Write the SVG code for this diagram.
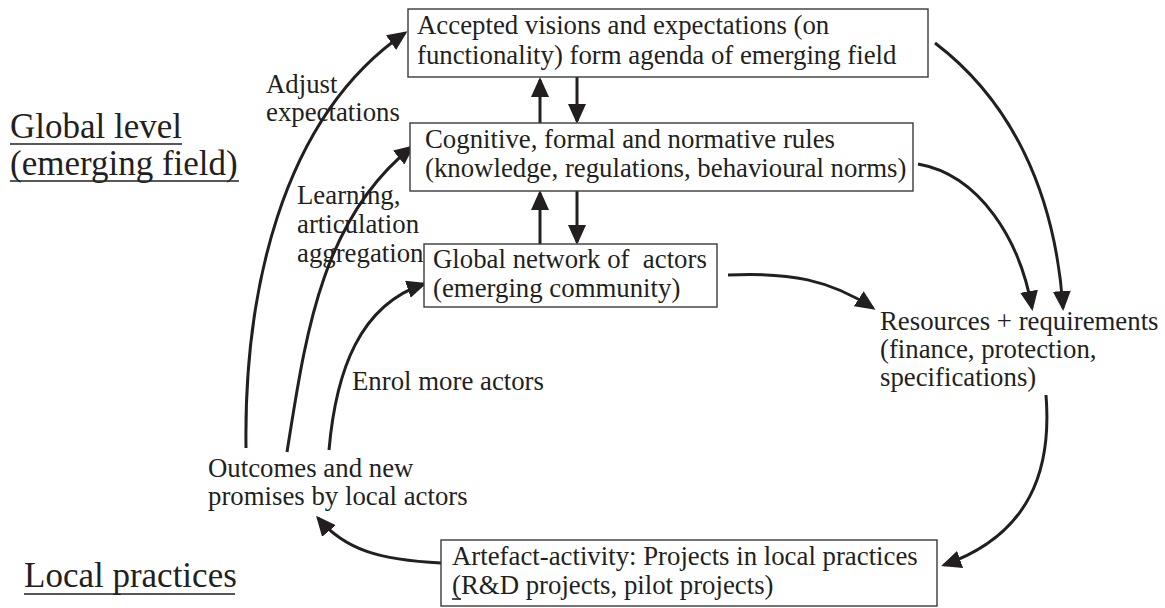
<svg xmlns="http://www.w3.org/2000/svg" width="1165" height="608" viewBox="0 0 1165 608">
<defs>
<style>
text{font-family:"Liberation Serif","Times New Roman",serif;fill:#231f20}
.t{font-size:26.8px}
.big{font-size:35px}
.box{fill:#fff;stroke:#3a3a3a;stroke-width:1.4}
.c{fill:none;stroke:#231f20;stroke-width:3}
.ul{stroke:#231f20;stroke-width:1.6}
</style>
<marker id="ah" viewBox="0 0 20 18" markerUnits="userSpaceOnUse" markerWidth="20" markerHeight="18" refX="17" refY="9" orient="auto">
<path d="M0,0 L20,9 L0,18 z" fill="#231f20"/>
</marker>
</defs>
<rect width="1165" height="608" fill="#fff"/>

<g id="label-global">
<text class="big"><tspan x="10" y="138">Global level</tspan><tspan x="10" y="174.5">(emerging field)</tspan></text>
<line class="ul" x1="10" y1="144" x2="182" y2="144"/>
<line class="ul" x1="10" y1="181" x2="239" y2="181"/>
</g>
<g id="label-local">
<text class="big" x="24" y="587">Local practices</text>
<line class="ul" x1="24" y1="594" x2="235" y2="594"/>
</g>

<g id="connectors">
<path class="c" d="M246,448 C244,300 278,120 405,33" marker-end="url(#ah)"/>
<path class="c" d="M287,452 C305,340 320,220 412,147" marker-end="url(#ah)"/>
<path class="c" d="M329,450 C336,370 360,305 424,284" marker-end="url(#ah)"/>
<path class="c" d="M441,563 C380,560 345,550 318,518" marker-end="url(#ah)"/>
<path class="c" d="M1046,395 C1052,470 1030,535 944,565" marker-end="url(#ah)"/>
<path class="c" d="M728,275 C790,272 830,280 873,308" marker-end="url(#ah)"/>
<path class="c" d="M918,164 C980,175 1020,240 1032,308" marker-end="url(#ah)"/>
<path class="c" d="M935,43 C1010,100 1055,190 1063,308" marker-end="url(#ah)"/>
<path class="c" d="M540,123 L540,80" marker-end="url(#ah)"/>
<path class="c" d="M577,77 L577,121" marker-end="url(#ah)"/>
<path class="c" d="M540,244 L540,193" marker-end="url(#ah)"/>
<path class="c" d="M577,191 L577,242" marker-end="url(#ah)"/>
</g>

<g id="connector-labels">
<text class="t"><tspan x="266" y="93">Adjust</tspan><tspan x="266" y="121">expectations</tspan></text>
<text class="t"><tspan x="297" y="204">Learning,</tspan><tspan x="297" y="233">articulation</tspan><tspan x="297" y="262">aggregation</tspan></text>
<text class="t" x="352" y="390">Enrol more actors</text>
</g>

<g id="node-visions">
<rect class="box" x="408" y="9" width="520" height="68"/>
<text class="t"><tspan x="417" y="34">Accepted visions and expectations (on</tspan><tspan x="417" y="64">functionality) form agenda of emerging field</tspan></text>
</g>
<g id="node-rules">
<rect class="box" x="410" y="123" width="503" height="68"/>
<text class="t"><tspan x="425" y="148">Cognitive, formal and normative rules</tspan><tspan x="425" y="177">(knowledge, regulations, behavioural norms)</tspan></text>
</g>
<g id="node-network">
<rect class="box" x="424" y="244" width="293" height="63"/>
<text class="t" xml:space="preserve"><tspan x="433" y="268">Global network of  actors</tspan><tspan x="433" y="297">(emerging community)</tspan></text>
</g>
<g id="node-resources">
<text class="t"><tspan x="880" y="330">Resources + requirements</tspan><tspan x="880" y="358">(finance, protection,</tspan><tspan x="880" y="386">specifications)</tspan></text>
</g>
<g id="node-outcomes">
<text class="t"><tspan x="208" y="477">Outcomes and new</tspan><tspan x="208" y="505">promises by local actors</tspan></text>
</g>
<g id="node-artefact">
<rect class="box" x="441" y="540" width="496" height="66"/>
<text class="t"><tspan x="452" y="565">Artefact-activity: Projects in local practices</tspan><tspan x="452" y="593.5">(R&amp;D projects, pilot projects)</tspan></text>
<line class="ul" x1="452" y1="599" x2="461" y2="599" stroke-width="1.2"/>
</g>
</svg>
